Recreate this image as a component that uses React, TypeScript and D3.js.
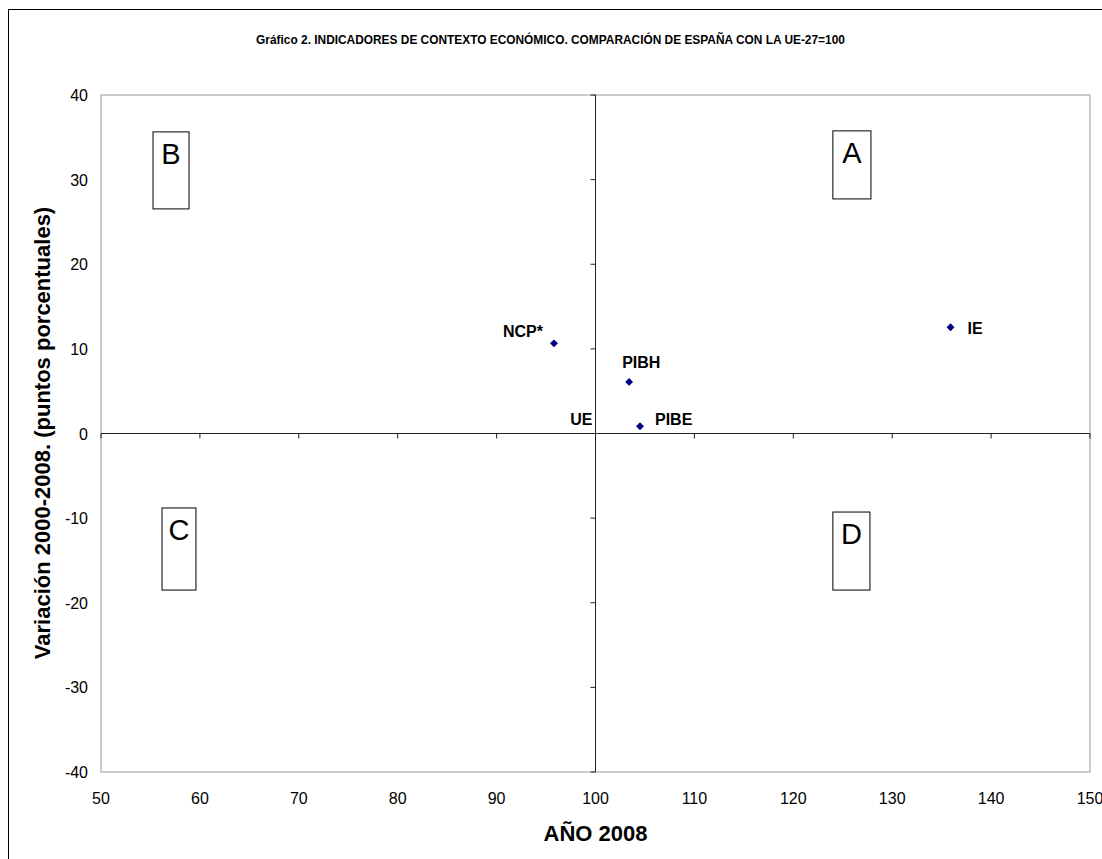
import React from "react";
import * as d3 from "d3";

const TITLE = "Gráfico 2. INDICADORES DE CONTEXTO ECONÓMICO. COMPARACIÓN DE ESPAÑA CON LA UE-27=100";
const X_TITLE = "AÑO 2008";
const Y_TITLE = "Variación 2000-2008. (puntos porcentuales)";

const pointNames = ["NCP*", "PIBH", "PIBE", "IE"];
const pointX = [95.8, 103.4, 104.5, 135.9];
const pointY = [10.65, 6.1, 0.85, 12.55];

const xTicks = [50, 60, 70, 80, 90, 100, 110, 120, 130, 140, 150];
const yTicks = [40, 30, 20, 10, 0, -10, -20, -30, -40];

const quadrantNames = ["A", "B", "C", "D"];
const quadrantX0 = [124.0, 55.26, 56.17, 124.0];
const quadrantX1 = [127.85, 58.9, 59.6, 127.75];
const quadrantY0 = [35.76, 35.64, -8.8, -9.28];
const quadrantY1 = [27.72, 26.54, -18.5, -18.5];

// label placement (pixel offsets from the point)
const labelPlacement: Record<string, { dx: number; dy: number; anchor: string }> = {
  "NCP*": { dx: -11, dy: -6.6, anchor: "end" },
  PIBH: { dx: -7, dy: -14, anchor: "start" },
  PIBE: { dx: 15, dy: -1, anchor: "start" },
  IE: { dx: 17, dy: 7, anchor: "start" },
  UE: { dx: -3, dy: -8.5, anchor: "end" },
};

const FONT = "'Liberation Sans', Arial, Helvetica, sans-serif";

export default function App() {
  const W = 1102;
  const H = 859;
  const left = 101, right = 1090, top = 95, bottom = 772;
  const x = d3.scaleLinear().domain([50, 150]).range([left, right]);
  const y = d3.scaleLinear().domain([-40, 40]).range([bottom, top]);
  const diamond = d3.symbol().type(d3.symbolDiamond2).size(40)() as string;
  const x0 = x(100);
  const y0 = y(0);

  return (
    <svg width={W} height={H} style={{ position: "absolute", left: 0, top: 0, background: "#fff" }} fontFamily={FONT}>
      <rect x={0} y={0} width={W} height={H} fill="#fff" />
      <rect x={8.5} y={9.5} width={1110} height={870} fill="none" stroke="#000" strokeWidth={1} />
      <text x={550.5} y={44} textAnchor="middle" fontSize={11.9} fontWeight="bold">{TITLE}</text>

      {/* plot area border */}
      <rect x={left} y={top} width={right - left} height={bottom - top} fill="#fff" stroke="#999" strokeWidth={1} />

      {/* axes through (100, 0) */}
      <line x1={x0} x2={x0} y1={top} y2={bottom} stroke="#222" strokeWidth={1} />
      <line x1={left} x2={right} y1={y0} y2={y0} stroke="#222" strokeWidth={1} />
      {xTicks.map((t) => (
        <line key={"xt" + t} x1={x(t)} x2={x(t)} y1={y0} y2={y0 + 5} stroke="#222" strokeWidth={1} />
      ))}
      {yTicks.map((t) => (
        <line key={"yt" + t} x1={x0 - 5} x2={x0} y1={y(t)} y2={y(t)} stroke="#222" strokeWidth={1} />
      ))}

      {/* tick labels */}
      {xTicks.map((t) => (
        <text key={"xl" + t} x={x(t)} y={804} textAnchor="middle" fontSize={16}>{t}</text>
      ))}
      {yTicks.map((t) => (
        <text key={"yl" + t} x={88} y={y(t) + 6} textAnchor="end" fontSize={16}>{t}</text>
      ))}

      {/* axis titles */}
      <text x={x0} y={841} textAnchor="middle" fontSize={22} fontWeight="bold">{X_TITLE}</text>
      <text transform={`translate(50, 433) rotate(-90)`} textAnchor="middle" fontSize={22} fontWeight="bold">{Y_TITLE}</text>

      {/* quadrant boxes */}
      {quadrantNames.map((q, i) => {
        const bx0 = x(quadrantX0[i]);
        const bx1 = x(quadrantX1[i]);
        const by0 = y(quadrantY0[i]);
        const by1 = y(quadrantY1[i]);
        return (
          <g key={q}>
            <rect x={bx0} y={by0} width={bx1 - bx0} height={by1 - by0} fill="#fff" stroke="#000" strokeWidth={1} />
            <text x={(bx0 + bx1) / 2} y={by0 + 32} textAnchor="middle" fontSize={29}>{q}</text>
          </g>
        );
      })}

      {/* points */}
      {pointNames.map((n, i) => (
        <path key={"p" + n} d={diamond} transform={`translate(${x(pointX[i])},${y(pointY[i])})`} fill="#000080" />
      ))}
      {pointNames.map((n, i) => {
        const p = labelPlacement[n];
        return (
          <text key={"l" + n} x={x(pointX[i]) + p.dx} y={y(pointY[i]) + p.dy} textAnchor={p.anchor} fontSize={16} fontWeight="bold">{n}</text>
        );
      })}
      <text x={x0 + labelPlacement.UE.dx} y={y0 + labelPlacement.UE.dy} textAnchor="end" fontSize={16} fontWeight="bold">UE</text>
    </svg>
  );
}
